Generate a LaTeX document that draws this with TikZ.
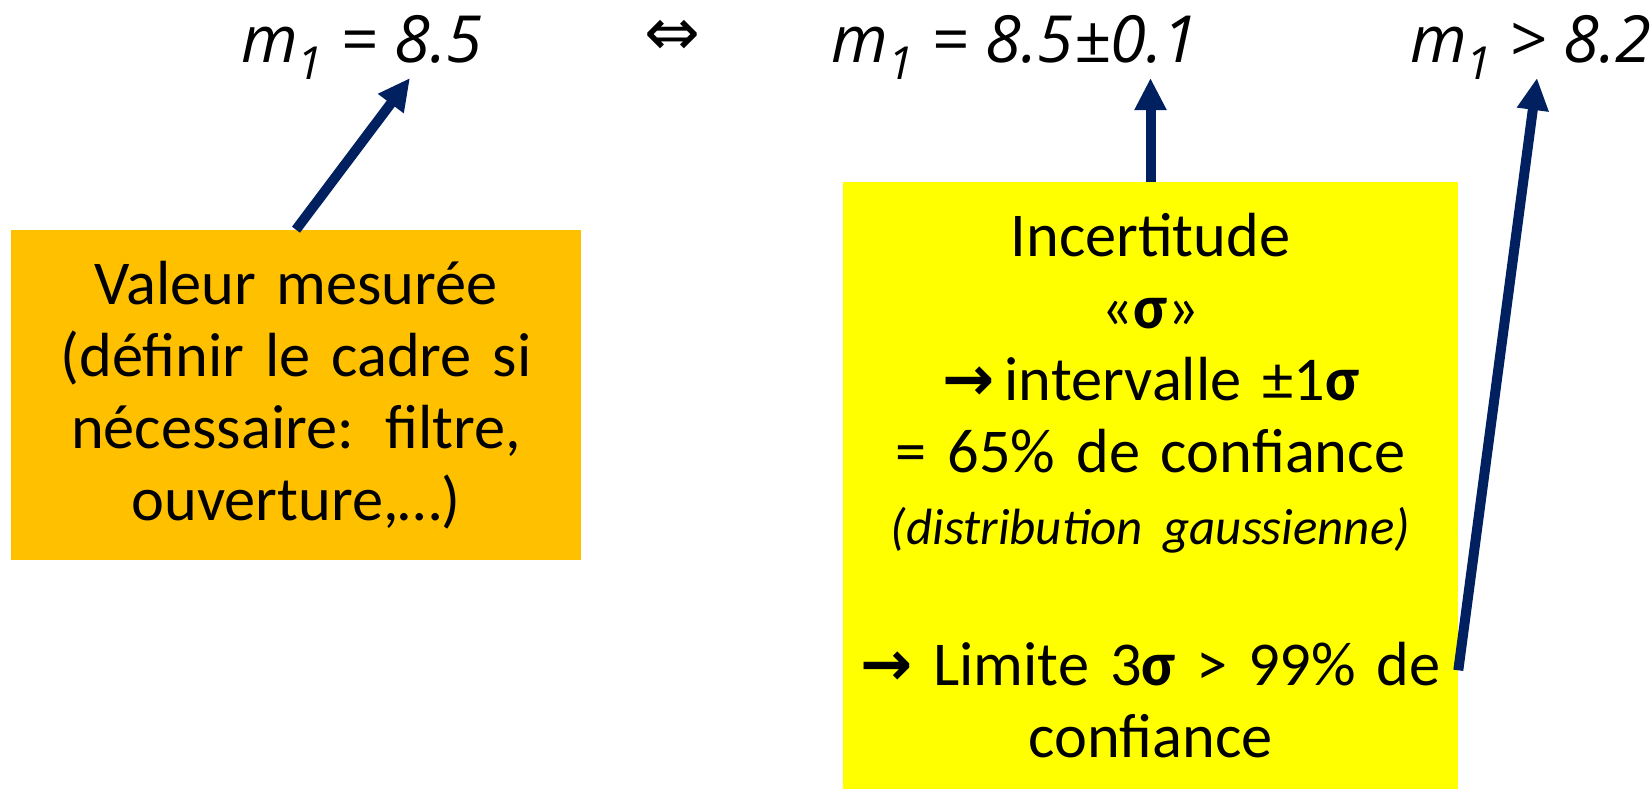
\documentclass[tikz,border=0pt]{standalone}
\usepackage{fontspec}
\setmainfont{Carlito}
\newfontfamily\comicf{Open Sans}
\newfontfamily\symf{DejaVu Sans}
\usepackage{tikz}
\usetikzlibrary{arrows.meta,calc}
\definecolor{PPNavy}{HTML}{002060}
\definecolor{PPOrange}{HTML}{FFC000}
\definecolor{PPYellow}{HTML}{FFFF00}
\newcommand{\sig}{\textbf{σ}}
\newcommand{\fl}{{\symf\bfseries →}}

\begin{document}
\begin{tikzpicture}[x=0.02cm,y=-0.02cm,
  formule/.style={anchor=base,inner sep=0pt,font=\comicf\itshape\fontsize{37}{44}\selectfont},
  boite/.style={align=center,inner sep=0pt,font=\fontsize{35.5}{41}\selectfont},
  fleche/.style={PPNavy,line width=0.2cm,-{Triangle[width=0.6cm,length=0.64cm]}}]
\path[use as bounding box] (0,0) rectangle (1650,789);
% formules du haut
\node[formule] (mes) at (362,62) {m\textsubscript{1} = 8.5};
\node[font=\symf\fontsize{38}{40}\selectfont,inner sep=0pt] (equiv) at (672,38) {⇔};
\node[formule] (inc) at (1015,62) {m\textsubscript{1} = 8.5±0.1};
\node[formule] (lim) at (1531,62) {m\textsubscript{1} > 8.2};
% cadres
\node[boite,fill=PPOrange,text width=11.4cm,minimum height=6.6cm] (valeur) at (296,395)
  {Valeur mesurée\\(définir le cadre si\\nécessaire: filtre,\\ouverture,…)};
\node[boite,fill=PPYellow,text width=12.3cm,minimum height=12.14cm] (incert) at (1150.5,485.5)
  {Incertitude\\
   «\sig»\\
   \fl\,intervalle ±1\sig\\
   = 65\% de confiance\\
   {\fontsize{29}{33}\selectfont\itshape (distribution gaussienne)}\\[39pt]
   \fl{} Limite 3\sig{} > 99\% de\\
   confiance};
% fleches
\coordinate (tipmes) at (410,78);
\coordinate (tipinc) at (1150.5,78);
\coordinate (tiplim) at (1537,78);
\draw[fleche] (valeur.north) -- (tipmes);
\draw[fleche] (incert.north) -- (tipinc);
\draw[fleche] ($(incert.south east)+(0,-119)$) -- (tiplim);
\end{tikzpicture}
\end{document}
